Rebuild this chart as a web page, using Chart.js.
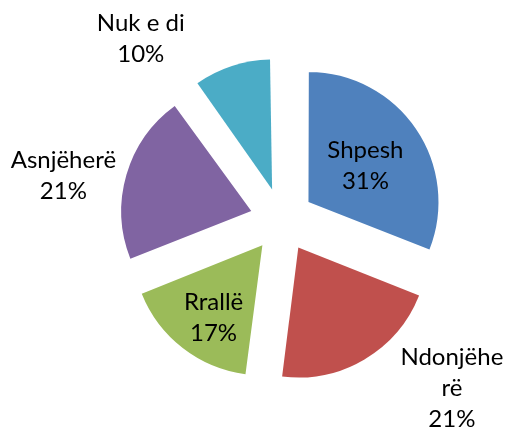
<!DOCTYPE html>
<html>
<head>
<meta charset="utf-8">
<script src="https://cdn.jsdelivr.net/npm/chart.js@4.4.1/dist/chart.umd.min.js"></script>
<style>
    html, body { margin: 0; padding: 0; background: #fff; }
    #wrap { width: 508px; height: 433px; position: relative; }
</style>
</head>
<body>
<div id="wrap"><canvas id="grafica"></canvas></div>
<script>
var CATEGORIES = ['Shpesh', 'Ndonjëherë', 'Rrallë', 'Asnjëherë', 'Nuk e di'];
var PERCENTS = [31, 21, 17, 21, 10];
var COLORS = ['#4f81bd', '#c0504d', '#9bbb59', '#8064a2', '#4bacc6'];

(function () {
    var EXPLODE = 128;          // chart.js moves a slice by offset / 4
    var FONT = '24px Lato, "Open Sans", sans-serif';
    var LINE_H = 31;

    // where each label sits: distance from the slice tip (x radius), turn from the bisector (deg), wrap width
    var LABEL_PLACE = [
        {dist: 0.52, turn: 1.6, wrap: 0},
        {dist: 1.60, turn: -17, wrap: 106},
        {dist: 0.67, turn: -3.7, wrap: 0},
        {dist: 1.47, turn: -5.7, wrap: 0},
        {dist: 1.54, turn: -23, wrap: 0},
    ];

    function wrapText(ctx, text, maxW) {
        if (!maxW || ctx.measureText(text).width <= maxW) {
            return [text];
        }

        var lines = [];
        var cur = '';

        text.split('').forEach(function (ch) {
            if (cur && ctx.measureText(cur + ch).width > maxW) {
                lines.push(cur);
                cur = ch;
            } else {
                cur += ch;
            }
        });

        if (cur) {
            lines.push(cur);
        }

        return lines;
    }

    // keep every exploded slice at the same radius (chart.js grows thin slices)
    var sameRadius = {
        id: 'sameRadius',
        beforeDatasetsDraw: function (chart) {
            var meta = chart.getDatasetMeta(0);
            var base = meta.controller.outerRadius;

            meta.data.forEach(function (arc) {
                var off = (arc.options.offset || 0) / 4;
                var fix = 1 - Math.sin(Math.min(Math.PI, arc.circumference));
                arc.outerRadius = base - off * fix;
            });
        },
    };

    var sliceLabels = {
        id: 'sliceLabels',
        afterDatasetsDraw: function (chart) {
            var ctx = chart.ctx;
            var meta = chart.getDatasetMeta(0);
            var base = meta.controller.outerRadius;

            ctx.save();
            ctx.font = FONT;
            ctx.fillStyle = '#000';
            ctx.textAlign = 'center';
            ctx.textBaseline = 'middle';

            meta.data.forEach(function (arc, i) {
                var p = arc.getProps(['x', 'y', 'startAngle', 'endAngle'], true);
                var mid = (p.startAngle + p.endAngle) / 2;
                var off = (arc.options.offset || 0) / 4;
                var cx = p.x + Math.cos(mid) * off;
                var cy = p.y + Math.sin(mid) * off;
                var place = LABEL_PLACE[i];
                var ang = mid + place.turn * Math.PI / 180;
                var lx = cx + Math.cos(ang) * base * place.dist;
                var ly = cy + Math.sin(ang) * base * place.dist;

                var lines = wrapText(ctx, CATEGORIES[i], place.wrap);
                lines.push(PERCENTS[i] + '%');

                var top = ly - (lines.length - 1) * LINE_H / 2;

                lines.forEach(function (t, k) {
                    ctx.fillText(t, lx, top + k * LINE_H);
                });
            });

            ctx.restore();
        },
    };

    new Chart(document.getElementById('grafica'), {
        type: 'pie',
        data: {
            labels: CATEGORIES,
            datasets: [{
                data: PERCENTS,
                backgroundColor: COLORS,
                borderWidth: 0,
                offset: EXPLODE,
            }],
        },
        options: {
            responsive: true,
            maintainAspectRatio: false,
            animation: false,
            events: [],
            radius: 130,
            layout: {padding: {left: 56, right: 0, top: 7, bottom: 0}},
            plugins: {
                legend: {display: false},
                tooltip: {enabled: false},
            },
        },
        plugins: [sameRadius, sliceLabels],
    });
})();
</script>
</body>
</html>
